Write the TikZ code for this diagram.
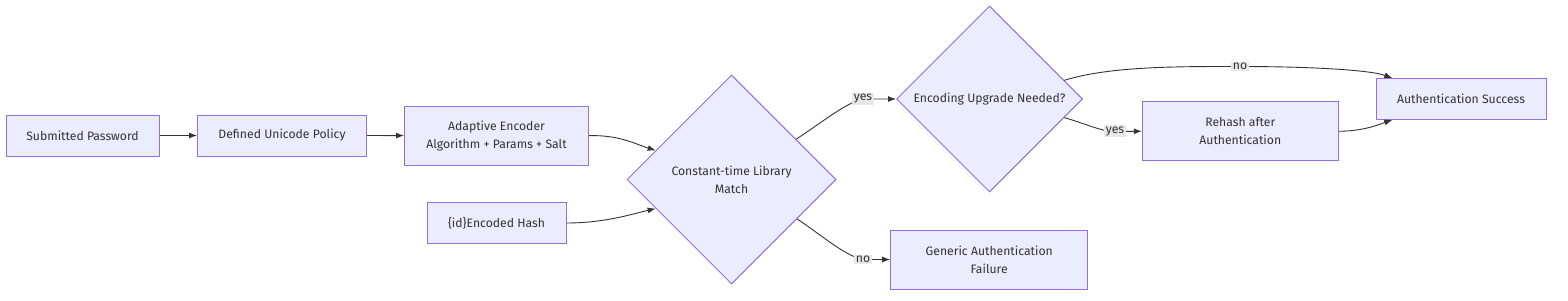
\documentclass[tikz,border=0pt]{standalone}
\usepackage{fontspec}
\setmainfont{Fira Sans}
\usetikzlibrary{shapes.geometric,arrows.meta}
\definecolor{nodefill}{HTML}{ECECFF}
\definecolor{nodeline}{HTML}{9370DB}
\definecolor{edgeline}{HTML}{333333}
\definecolor{lblfill}{HTML}{E8E8E8}
\definecolor{txt}{HTML}{333333}
\begin{document}
\begin{tikzpicture}[x=1pt, y=-1pt, >={Latex[length=8pt,width=6pt]},
    box/.style={rectangle, draw=nodeline, fill=nodefill, line width=1pt, inner sep=0pt,
        minimum height=41pt, align=center, text=txt, font=\fontsize{12.2}{18}\selectfont},
    decision/.style={diamond, aspect=1, draw=nodeline, fill=nodefill, line width=1pt,
        inner sep=0pt, align=center, text=txt, font=\fontsize{12.2}{18}\selectfont},
    flow/.style={->, draw=edgeline, line width=0.9pt},
    lbl/.style={fill=lblfill, inner sep=1.5pt, text=txt, font=\fontsize{12.2}{15}\selectfont}]
    \useasboundingbox (0,0) rectangle (1568,300);

    \node[box, minimum width=153pt] (SP) at (82.5,135.5) {Submitted Password};
    \node[box, minimum width=169pt] (DUP) at (282,135.5) {Defined Unicode Policy};
    \node[box, minimum width=184pt, minimum height=59pt] (AE) at (496.5,135.6) {Adaptive Encoder\\Algorithm + Params + Salt};
    \node[box, minimum width=139pt] (EH) at (496.5,223) {\{id\}Encoded Hash};
    \node[decision, minimum width=209pt, minimum height=209pt] (D1) at (731.5,179.5) {Constant-time Library\\Match};
    \node[decision, minimum width=186pt, minimum height=186pt] (UP) at (989.5,99) {Encoding Upgrade Needed?};
    \node[box, minimum width=197pt, minimum height=59pt] (GF) at (989.2,259.5) {Generic Authentication\\Failure};
    \node[box, minimum width=196pt, minimum height=59pt] (RH) at (1240.3,131.3) {Rehash after\\Authentication};
    \node[box, minimum width=170pt] (AS) at (1461,99) {Authentication Success};

    \draw[flow] (SP) -- (DUP);
    \draw[flow] (DUP) -- (AE);
    \draw[flow] (AE.east) .. controls (620,135) and (635,144) .. (D1.159);
    \draw[flow] (EH.east) .. controls (605,223) and (632,214) .. (D1.-159);
    \draw[flow] (D1.32) .. controls (820,124) and (845,103) .. (863,99) node[lbl] {yes} -- (UP.west);
    \draw[flow] (D1.-31) .. controls (820,234) and (845,256) .. (863,259.5) node[lbl] {no} -- (GF.west);
    \draw[flow] (UP.-14) .. controls (1090,125) and (1100,131.3) .. (1115,131.3) node[lbl] {yes} -- (RH.west);
    \draw[flow] (UP.14) .. controls (1110,66) and (1180,66.5) .. (1240,66.5) node[lbl] {no}
        .. controls (1310,66.5) and (1370,70) .. (AS.163);
    \draw[flow] (RH.east) .. controls (1365,131) and (1380,124) .. (AS.197);
\end{tikzpicture}
\end{document}
